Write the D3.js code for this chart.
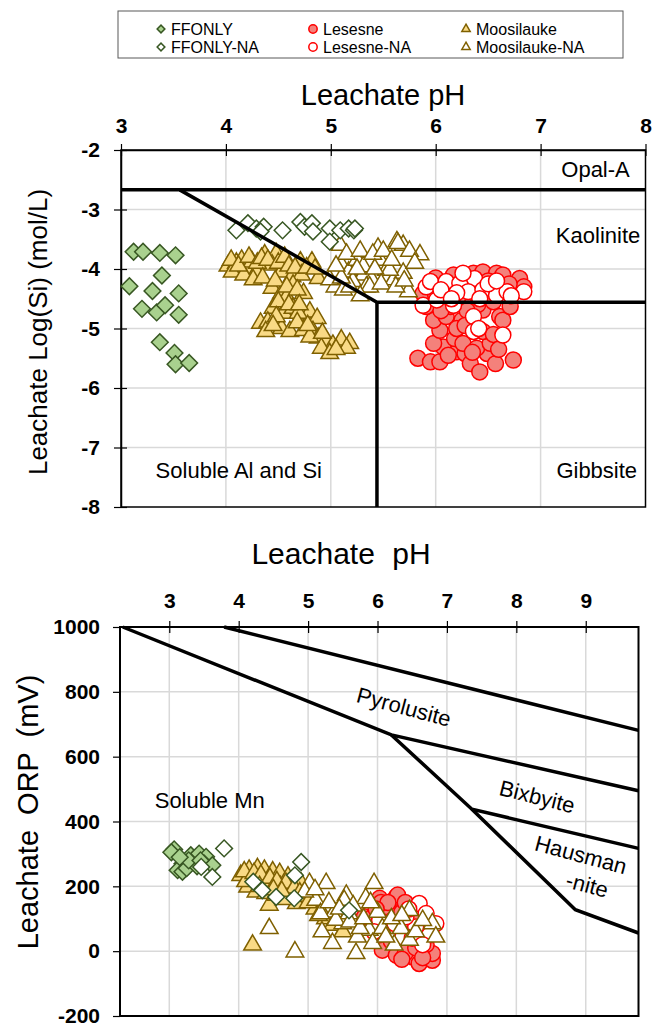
<!DOCTYPE html>
<html>
<head>
<meta charset="utf-8">
<script src="https://cdn.jsdelivr.net/npm/d3@7"></script>
<style>
  body { margin: 0; background: #fff; }
  text { font-family: Arial, "Liberation Sans", sans-serif; fill: #000; }
</style>
</head>
<body>
<script>
// ---- data: top panel, [pH, log Si] ----
const ffonlySi = [[3.12,-3.71],[3.21,-3.71],[3.37,-3.73],[3.52,-3.77],[3.39,-4.11],[3.08,-4.29],[3.30,-4.37],[3.55,-4.41],
  [3.20,-4.67],[3.34,-4.73],[3.42,-4.61],[3.55,-4.77],[3.37,-5.23],[3.51,-5.41],[3.52,-5.60],[3.65,-5.58]]
const ffonlyNaSi = [[4.10,-3.35],[4.21,-3.23],[4.29,-3.32],[4.36,-3.29],[4.33,-3.37],[4.54,-3.35],[4.71,-3.21],[4.75,-3.29],
  [4.82,-3.23],[4.83,-3.37],[4.99,-3.32],[4.99,-3.54],[5.09,-3.35],[5.17,-3.32],[5.22,-3.35],[5.23,-3.32]]
const lesesneSi = [[5.83,-5.50],[5.95,-5.56],[6.04,-5.56],[6.20,-5.39],[6.28,-5.42],[6.33,-5.59],[6.42,-5.73],[6.49,-5.42],
  [6.57,-5.59],[6.74,-5.53],[6.07,-5.31],[5.98,-5.25],[6.04,-5.03],[6.18,-5.17],[6.26,-5.25],[6.39,-5.33],[6.52,-5.25],
  [5.98,-4.86],[6.10,-4.80],[6.25,-4.86],[6.61,-4.80],[6.64,-4.86],[5.95,-4.30],[6.17,-4.10],[6.36,-4.07],[6.45,-4.05],
  [6.58,-4.07],[6.64,-4.10],[6.80,-4.16],[6.84,-4.30],[6.49,-4.41],[6.33,-4.52],[6.14,-4.63],[6.45,-4.69],[6.71,-4.63],
  [5.88,-4.41],[5.91,-4.63],[6.00,-4.45],[6.22,-4.45],[6.40,-4.60],[6.55,-4.55],[6.05,-4.70],[6.30,-4.70],[6.20,-5.00],
  [6.45,-5.05],[6.55,-5.10],[6.12,-5.45],[6.35,-5.40],[6.60,-5.35],[6.50,-4.20],[6.70,-4.25],[6.00,-4.15],[6.28,-4.95]]
const lesesneNaSi = [[5.91,-4.30],[5.95,-4.21],[6.10,-4.21],[6.23,-4.24],[6.37,-4.16],[6.31,-4.38],[6.45,-4.35],[6.58,-4.44],
  [6.68,-4.38],[6.84,-4.38],[5.88,-4.61],[6.01,-4.52],[6.17,-4.61],[6.36,-4.80],[6.36,-5.05],[6.41,-5.00],[6.64,-5.11],
  [6.26,-4.07],[6.05,-4.35],[6.50,-4.25],[6.72,-4.45],[6.20,-4.40],[6.42,-4.50],[6.58,-4.20],[6.15,-4.50]]
const moosSi = [[4.02,-3.95],[4.10,-3.90],[4.15,-3.85],[4.20,-3.99],[4.25,-3.88],[4.29,-4.05],[4.37,-3.76],[4.48,-3.74],
  [4.44,-3.93],[4.53,-4.05],[4.63,-4.13],[4.71,-3.88],[4.82,-3.88],[4.88,-4.16],[4.72,-4.10],[4.44,-4.32],[4.53,-4.41],
  [4.64,-4.27],[4.74,-4.41],[4.58,-4.47],[4.45,-4.66],[4.55,-4.74],[4.64,-4.66],[4.74,-4.77],[4.80,-4.72],[4.87,-4.83],
  [4.33,-4.91],[4.40,-4.89],[4.53,-5.00],[4.61,-5.05],[4.74,-5.03],[4.83,-5.05],[4.88,-5.16],[4.96,-5.22],[5.02,-5.28],
  [5.10,-5.19],[5.18,-5.25],[4.91,-5.33],[4.99,-5.42],[5.15,-5.33],[4.80,-5.14],[4.69,-4.74],[4.06,-4.05],[4.17,-4.10],
  [4.26,-4.18],[4.05,-3.85],[4.12,-3.95],[4.22,-3.80],[4.30,-3.90],[4.34,-3.82],[4.40,-3.85],[4.50,-3.90],[4.56,-3.80],
  [4.60,-3.95],[4.66,-3.98],[4.77,-3.98],[4.85,-4.00],[4.35,-4.15],[4.47,-4.20],[4.58,-4.30],[4.68,-4.35],[4.50,-4.55],
  [4.60,-4.60],[4.70,-4.60],[4.48,-4.80],[4.68,-4.90],[4.78,-4.95],[4.92,-5.08],[5.05,-5.35],[4.38,-5.05],[4.45,-4.95]]
const moosNaSi = [[5.09,-3.60],[5.45,-3.65],[5.63,-3.54],[5.69,-3.60],[5.85,-3.76],[5.10,-3.93],[5.17,-4.05],[5.25,-3.85],
  [5.31,-4.10],[5.39,-4.18],[5.21,-4.21],[5.34,-4.30],[5.47,-3.85],[5.53,-4.02],[5.60,-4.18],[5.69,-4.07],[5.74,-4.38],
  [5.04,-4.30],[5.12,-4.35],[4.99,-4.18],[5.31,-3.96],[5.56,-4.02],[5.37,-4.30],[5.18,-4.30],[5.64,-3.57],[5.15,-3.75],
  [5.28,-3.70],[5.40,-3.75],[5.50,-3.70],[5.58,-3.85],[5.75,-3.70],[5.80,-3.90],[5.42,-4.00],[5.25,-4.00],[5.48,-4.25],
  [5.28,-4.45],[5.10,-4.15],[5.62,-4.30],[5.05,-3.95],[5.70,-4.20]]

// ---- data: bottom panel, [pH, ORP mV] ----
const ffonlyOrp = [[3.07,314],[3.19,270],[3.12,250],[3.19,245],[3.31,296],[3.36,286],[3.43,301],[3.53,291],[3.50,271],
  [3.62,265],[3.25,256],[3.40,262],[3.03,305],[3.28,280],[3.45,280],[3.15,290]]
const ffonlyNaOrp = [[3.79,317],[3.46,260],[3.62,229],[4.21,214],[4.34,188],[4.54,167],[4.80,163],[4.90,275],[4.81,234],[5.59,126]]
const lesesneOrp = [[5.81,106],[5.93,106],[6.03,163],[6.05,150],[6.27,167],[6.29,173],[6.12,126],[6.19,121],[6.22,96],
  [6.00,80],[6.10,60],[6.30,70],[6.45,50],[6.07,3],[6.27,-12],[6.51,-18],[6.60,-38],[6.79,-28],[6.79,-7],[6.40,-5],
  [6.70,20],[6.20,30],[6.55,10],[6.15,150],[6.35,120],[6.40,150],[5.98,130],[6.55,100],[6.65,-20],[6.35,-25]]
const lesesneNaOrp = [[6.60,147],[6.70,116],[6.84,85],[6.55,75],[6.41,106],[6.03,96],[6.36,44],[6.15,60],[6.50,40],
  [6.75,50],[6.25,85],[5.95,60],[6.45,130],[6.65,20]]
const moosOrp = [[4.03,234],[4.15,250],[4.27,255],[4.37,250],[4.49,245],[4.59,240],[4.71,229],[4.13,198],[4.25,183],
  [4.39,178],[4.44,142],[4.54,173],[4.83,147],[4.20,19],[4.10,215],[4.35,215],[4.60,200],[4.75,190],[4.95,170],
  [5.10,130],[5.25,100],[5.05,160],[4.90,210],[4.65,160],[5.35,80],[5.50,60],[4.08,245],[4.22,240],[4.32,235],
  [4.45,225],[4.55,215],[4.68,210],[4.80,195],[4.30,200],[4.50,190],[4.62,185],[4.88,180],[5.00,150],[5.15,110]]
const moosNaOrp = [[4.44,70],[4.81,-2],[5.02,209],[5.26,209],[5.55,173],[5.95,209],[5.83,163],[5.38,121],[5.50,85],
  [5.35,24],[5.69,-7],[5.88,65],[5.11,157],[4.95,183],[5.18,116],[5.59,116],[5.71,44],[6.46,126],[6.79,85],[6.84,44],
  [6.07,70],[6.24,19],[6.34,70],[6.46,34],[5.93,24],[6.12,44],[5.52,157],[5.40,96],[6.00,120],[6.20,100],[5.10,190],
  [5.30,150],[5.45,130],[5.60,90],[5.75,70],[5.20,60],[5.65,140],[5.80,100],[6.35,110],[6.55,60],[6.65,95],[5.90,150]]

// ---- stability field boundaries ----
const opalLine = [[3,-2.67],[8,-2.67]]
const kaolLine = [[3.56,-2.67],[5.44,-4.56],[8,-4.56]]
const gibbLine = [[5.44,-4.56],[5.44,-8]]
const mnLines = [
  [[3.79,1000],[9.76,681]],
  [[2.33,1000],[6.20,667],[9.76,495]],
  [[6.20,667],[7.36,438],[9.76,317]],
  [[7.36,438],[8.85,128],[9.76,56]]
]

// ---- axis ticks ----
const phTicksTop = [3,4,5,6,7,8]
const siTicks = [-2,-3,-4,-5,-6,-7,-8]
const phTicksBot = [3,4,5,6,7,8,9]
const orpTicks = [1000,800,600,400,200,0,-200]

// ---- region labels [text, pH, value, rotation, anchor] ----
const topLabels = [['Opal-A',7.85,-2.45,0,'end'],['Kaolinite',7.95,-3.56,0,'end'],
  ['Gibbsite',7.92,-7.51,0,'end'],['Soluble Al and Si',3.33,-7.51,0,'start']]
const botLabels = [['Soluble Mn',2.79,442,0,'start'],['Pyrolusite',6.38,753,15,'middle'],
  ['Bixbyite',8.30,476,14,'middle'],['Hausman',8.93,297,15,'middle'],['-nite',9.02,204,15,'middle']]

const green = '#385723', red = '#ff0000', brown = '#7f6000'
const series = {
  ffonly:  { name: 'FFONLY',        type: d3.symbolSquare,   size: 140, rot: 45, fill: '#a9d18e', stroke: green },
  ffonlyNa:{ name: 'FFONLY-NA',     type: d3.symbolSquare,   size: 140, rot: 45, fill: '#fff',    stroke: green },
  les:     { name: 'Lesesne',       type: d3.symbolCircle,   size: 200, rot: 0,  fill: '#f4817b', stroke: red },
  lesNa:   { name: 'Lesesne-NA',    type: d3.symbolCircle,   size: 200, rot: 0,  fill: '#fff',    stroke: red },
  moos:    { name: 'Moosilauke',    type: d3.symbolTriangle, size: 135, rot: 0,  fill: '#f9da85', stroke: brown },
  moosNa:  { name: 'Moosilauke-NA', type: d3.symbolTriangle, size: 135, rot: 0,  fill: '#fff',    stroke: brown }
}

const W = 654, H = 1023
const svg = d3.select('body').append('svg').attr('width', W).attr('height', H)

// plain hyphen minus, like the source chart
const fmtInt = d => String(d)

function drawSeries(g, data, xs, ys, s) {
  const sym = d3.symbol().type(s.type).size(s.size)
  g.selectAll(null).data(data).enter().append('path')
    .attr('d', sym)
    .attr('transform', d => `translate(${xs(d[0])},${ys(d[1])}) rotate(${s.rot})`)
    .attr('fill', s.fill)
    .attr('stroke', s.stroke)
    .attr('stroke-width', 1.5)
}

function drawLabels(g, labels, xs, ys) {
  labels.forEach(l => {
    g.append('text')
      .attr('transform', `translate(${xs(l[1])},${ys(l[2])}) rotate(${l[3]})`)
      .attr('text-anchor', l[4])
      .attr('dominant-baseline', l[3] ? 'central' : 'auto')
      .style('font-size', '22px')
      .text(l[0])
  })
}

function styleTicks(axisG) {
  axisG.selectAll('.tick text')
    .style('font-size', '21px').style('font-weight', 'bold')
    .style('font-family', 'Arial, "Liberation Sans", sans-serif')
    .attr('fill', '#000')
}

// ================= legend =================
const leg = svg.append('g')
leg.append('rect').attr('x', 118).attr('y', 11).attr('width', 505).attr('height', 47)
  .attr('fill', '#fff').attr('stroke', '#595959').attr('stroke-width', 1)
const legItems = [['ffonly',0,0],['ffonlyNa',0,1],['les',1,0],['lesNa',1,1],['moos',2,0],['moosNa',2,1]]
const legCols = [161, 313, 466]
const legRows = [29, 47]
legItems.forEach(([k, c, r]) => {
  const s = series[k]
  leg.append('path')
    .attr('d', d3.symbol().type(s.type).size(s.type === d3.symbolCircle ? 55 : 30)())
    .attr('transform', `translate(${legCols[c]},${legRows[r]}) rotate(${s.rot})`)
    .attr('fill', s.fill).attr('stroke', s.stroke).attr('stroke-width', 1.5)
  leg.append('text').attr('x', legCols[c] + 10).attr('y', legRows[r] + 6)
    .style('font-size', '16px').text(s.name)
})

// ================= top panel =================
const x1 = d3.scaleLinear().domain([3, 8]).range([121, 645.5])
const y1 = d3.scaleLinear().domain([-2, -8]).range([150, 507])
const g1 = svg.append('g')

g1.append('g').selectAll('line').data(phTicksTop.slice(1, -1)).enter().append('line')
  .attr('x1', d => x1(d)).attr('x2', d => x1(d)).attr('y1', y1(-2)).attr('y2', y1(-8))
  .attr('stroke', '#d9d9d9').attr('stroke-width', 1.5)
g1.append('g').selectAll('line').data(siTicks.slice(1, -1)).enter().append('line')
  .attr('y1', d => y1(d)).attr('y2', d => y1(d)).attr('x1', x1(3)).attr('x2', x1(8))
  .attr('stroke', '#d9d9d9').attr('stroke-width', 1.5)

g1.append('rect').attr('x', x1(3)).attr('y', y1(-2)).attr('width', x1(8) - x1(3)).attr('height', y1(-8) - y1(-2))
  .attr('fill', 'none').attr('stroke', '#000').attr('stroke-width', 1.5)

const xAxis1 = g1.append('g').attr('transform', `translate(0,${y1(-2)})`)
  .call(d3.axisTop(x1).tickValues(phTicksTop).tickFormat(fmtInt).tickSizeInner(6).tickSizeOuter(0).tickPadding(11))
xAxis1.select('.domain').attr('stroke-width', 1.5)
xAxis1.selectAll('.tick line').attr('y2', 6).attr('y1', -6).attr('stroke-width', 1.2)
styleTicks(xAxis1)

const yAxis1 = g1.append('g').attr('transform', `translate(${x1(3)},0)`)
  .call(d3.axisLeft(y1).tickValues(siTicks).tickSizeOuter(0).tickPadding(15).tickFormat(fmtInt))
yAxis1.select('.domain').attr('stroke-width', 1.5)
yAxis1.selectAll('.tick line').attr('x1', 6).attr('x2', -7).attr('stroke-width', 1.2)
styleTicks(yAxis1)

svg.append('text').attr('x', 383).attr('y', 105).attr('text-anchor', 'middle')
  .style('font-size', '29px').text('Leachate pH')
svg.append('text').attr('transform', 'translate(47,332) rotate(-90)').attr('text-anchor', 'middle')
  .style('font-size', '26px').text('Leachate Log(Si) (mol/L)')

const pts1 = g1.append('g')
drawSeries(pts1, lesesneSi, x1, y1, series.les)
drawSeries(pts1, lesesneNaSi, x1, y1, series.lesNa)
drawSeries(pts1, moosSi, x1, y1, series.moos)
drawSeries(pts1, moosNaSi, x1, y1, series.moosNa)
drawSeries(pts1, ffonlySi, x1, y1, series.ffonly)
drawSeries(pts1, ffonlyNaSi, x1, y1, series.ffonlyNa)

const line1 = d3.line().x(d => x1(d[0])).y(d => y1(d[1]))
;[opalLine, kaolLine, gibbLine].forEach(l => {
  g1.append('path').attr('d', line1(l)).attr('fill', 'none').attr('stroke', '#000').attr('stroke-width', 3.5)
})
drawLabels(g1, topLabels, x1, y1)

// ================= bottom panel =================
const x2 = d3.scaleLinear().domain([2.29, 9.76]).range([120, 638.5])
const y2 = d3.scaleLinear().domain([-200, 1000]).range([1016, 627])
const g2 = svg.append('g')

g2.append('g').selectAll('line').data(phTicksBot).enter().append('line')
  .attr('x1', d => x2(d)).attr('x2', d => x2(d)).attr('y1', y2(1000)).attr('y2', y2(-200))
  .attr('stroke', '#d9d9d9').attr('stroke-width', 1.5)
g2.append('g').selectAll('line').data(orpTicks.slice(1, -1)).enter().append('line')
  .attr('y1', d => y2(d)).attr('y2', d => y2(d)).attr('x1', x2(2.29)).attr('x2', x2(9.76))
  .attr('stroke', '#d9d9d9').attr('stroke-width', 1.5)

g2.append('rect').attr('x', x2(2.29)).attr('y', y2(1000)).attr('width', x2(9.76) - x2(2.29))
  .attr('height', y2(-200) - y2(1000))
  .attr('fill', 'none').attr('stroke', '#000').attr('stroke-width', 2)

const xAxis2 = g2.append('g').attr('transform', `translate(0,${y2(1000)})`)
  .call(d3.axisTop(x2).tickValues(phTicksBot).tickFormat(fmtInt).tickSizeOuter(0).tickPadding(13))
xAxis2.select('.domain').remove()
xAxis2.selectAll('.tick line').attr('y2', 6).attr('y1', -6).attr('stroke-width', 1.2)
styleTicks(xAxis2)

const yAxis2 = g2.append('g').attr('transform', `translate(${x2(2.29)},0)`)
  .call(d3.axisLeft(y2).tickValues(orpTicks).tickSizeInner(7).tickSizeOuter(0).tickPadding(13).tickFormat(fmtInt))
yAxis2.select('.domain').remove()
yAxis2.selectAll('.tick line').attr('stroke-width', 1.2)
styleTicks(yAxis2)

svg.append('text').attr('x', 341).attr('y', 564).attr('text-anchor', 'middle')
  .style('font-size', '30px').style('word-spacing', '9px').text('Leachate pH')
svg.append('text').attr('transform', 'translate(38,812) rotate(-90)').attr('text-anchor', 'middle')
  .style('font-size', '29px').style('word-spacing', '7px').text('Leachate ORP (mV)')

const pts2 = g2.append('g')
drawSeries(pts2, lesesneOrp, x2, y2, series.les)
drawSeries(pts2, lesesneNaOrp, x2, y2, series.lesNa)
drawSeries(pts2, moosOrp, x2, y2, series.moos)
drawSeries(pts2, moosNaOrp, x2, y2, series.moosNa)
drawSeries(pts2, ffonlyOrp, x2, y2, series.ffonly)
drawSeries(pts2, ffonlyNaOrp, x2, y2, series.ffonlyNa)

const line2 = d3.line().x(d => x2(d[0])).y(d => y2(d[1]))
mnLines.forEach(l => {
  g2.append('path').attr('d', line2(l)).attr('fill', 'none').attr('stroke', '#000').attr('stroke-width', 3.5)
})
drawLabels(g2, botLabels, x2, y2)
</script>
</body>
</html>
